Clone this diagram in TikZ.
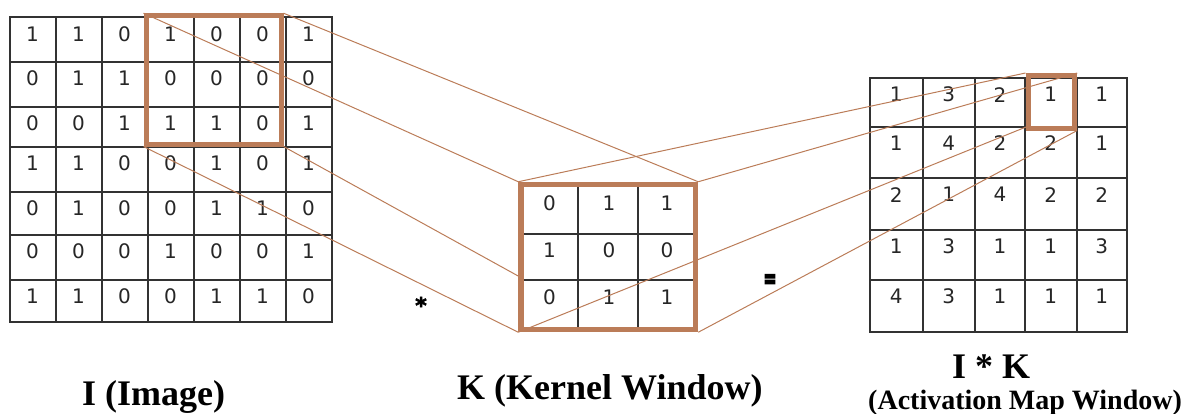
\documentclass[tikz,border=0pt]{standalone}
\usepackage{fontspec}
\setmainfont{Liberation Serif}
\newfontfamily\digitfont{DejaVu Sans}
\newfontfamily\opfont[FakeBold=3]{DejaVu Sans Bold}
\newfontfamily\eqfont[FakeBold=6]{DejaVu Sans Bold}
\definecolor{winbrown}{RGB}{187,124,88}
\definecolor{gridgray}{RGB}{50,50,50}
\pgfdeclarelayer{grid}
\pgfdeclarelayer{links}
\pgfsetlayers{grid,links,main}
\begin{document}
\begin{tikzpicture}[x=1pt,y=-1pt,
  gridline/.style={draw=gridgray,line width=2pt},
  digit/.style={font=\digitfont\fontsize{20}{20}\selectfont,text=black!85,inner sep=0pt,anchor=center},
  window/.style={draw=winbrown,line width=5pt,inner sep=0pt},
  link/.style={draw=winbrown,line width=1pt},
  caption/.style={font=\bfseries\fontsize{36}{40}\selectfont,anchor=base west,inner sep=0pt}]
\useasboundingbox (0,0) rectangle (1186,413);

\begin{pgfonlayer}{grid}
  % input image I (7 x 7)
  \draw[gridline] (9.5,17.3) rectangle (331.5,321.7);
  \foreach \x in {55.5,101.5,147.5,193.5,239.5,285.5}
    \draw[gridline] (\x,17.3) -- (\x,321.7);
  \foreach \y in {61.7,106.7,146.7,191.7,235,280}
    \draw[gridline] (9.5,\y) -- (331.5,\y);
  \foreach \vals [count=\r] in {{1,1,0,1,0,0,1},{0,1,1,0,0,0,0},{0,0,1,1,1,0,1},
      {1,1,0,0,1,0,1},{0,1,0,0,1,1,0},{0,0,0,1,0,0,1},{1,1,0,0,1,1,0}}{
    \pgfmathsetmacro\ty{{17.3,61.7,106.7,146.7,191.7,235,280}[\r-1]+16.5}
    \foreach \v [count=\c] in \vals
      \node[digit] (L-\r-\c) at ({32.5+46*(\c-1)},\ty) {\v};
  }
  % activation map I * K (5 x 5)
  \draw[gridline] (870,78.3) rectangle (1127,331.7);
  \foreach \x in {922.7,975,1025,1076.7}
    \draw[gridline] (\x,78.3) -- (\x,331.7);
  \foreach \y in {126.7,178.3,230,280}
    \draw[gridline] (870,\y) -- (1127,\y);
  \foreach \vals [count=\r] in {{1,3,2,1,1},{1,4,2,2,1},{2,1,4,2,2},{1,3,1,1,3},{4,3,1,1,1}}{
    \pgfmathsetmacro\ty{{78.3,126.7,178.3,230,280}[\r-1]+16.3}
    \foreach \v [count=\c] in \vals{
      \pgfmathsetmacro\tx{{896.3,948.8,1000,1050.8,1101.8}[\c-1]}
      \node[digit] (R-\r-\c) at (\tx,\ty) {\v};
    }
  }
\end{pgfonlayer}

% sliding window on the image
\node[window,minimum width=135pt,minimum height=128.3pt] (Lw) at (213.5,79.85) {};

% kernel K (3 x 3)
\node[window,line width=5.5pt,fill=white,minimum width=174.5pt,minimum height=145pt] (K) at (608.25,257) {};
\foreach \x in {578,638}
  \draw[gridline] (\x,187.25) -- (\x,326.75);
\foreach \y in {234,280}
  \draw[gridline] (523.75,\y) -- (692.75,\y);
\foreach \vals [count=\r] in {{0,1,1},{1,0,0},{0,1,1}}{
  \pgfmathsetmacro\ty{{203.5,250,297}[\r-1]}
  \foreach \v [count=\c] in \vals{
    \pgfmathsetmacro\tx{{549.5,609,667}[\c-1]}
    \node[digit] (K-\r-\c) at (\tx,\ty) {\v};
  }
}

% output cell
\node[window,minimum width=46.7pt,minimum height=52.5pt] (Rw) at (1051.35,101.75) {};

% projection lines: image window -> kernel
\coordinate (kin) at (520,277);
\begin{pgfonlayer}{links}
  \draw[link] (Lw.north west) -- (K.north west);
  \draw[link] (Lw.north east) -- (K.north east);
  \draw[link] (Lw.south west) -- (K.south west);
  \draw[link] (Lw.south east) -- (kin);
\end{pgfonlayer}

% projection lines: kernel -> output cell
\coordinate (rbl) at (1026,127);
\draw[link] (K.north west) -- (Rw.north west);
\draw[link] (K.north east) -- (Rw.north east);
\draw[link] (K.south west) -- (rbl);
\draw[link] (K.south east) -- (Rw.south east);

% operators
\node[font=\opfont\fontsize{22}{22}\selectfont,inner sep=0pt] (star) at (421,305) {*};
\node[font=\eqfont\fontsize{26}{26}\selectfont,inner sep=0pt,xscale=0.6] (eq) at (770,281) {=};

% captions
\node[caption] (capI) at (82,405) {I (Image)};
\node[caption] (capK) at (457,399) {K (Kernel Window)};
\node[caption] (capIK) at (952,378) {I * K};
\node[caption,font=\bfseries\fontsize{28}{32}\selectfont] (capA) at (868,409) {(Activation Map Window)};
\end{tikzpicture}
\end{document}
